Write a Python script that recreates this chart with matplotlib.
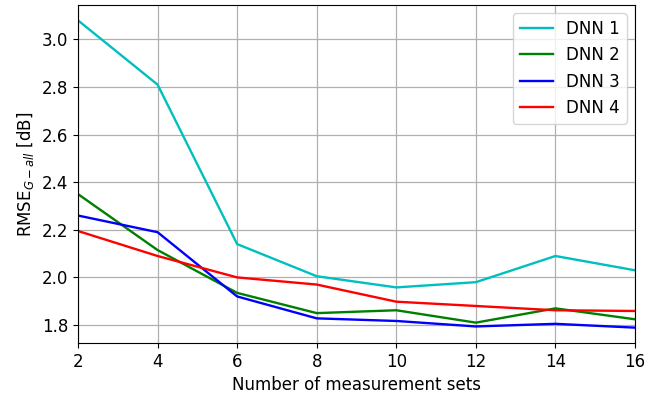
import numpy as np
import matplotlib
matplotlib.use("Agg")
import matplotlib.pyplot as plt

sets = [2, 4, 6, 8, 10, 12, 14, 16]
dnn1 = [3.08, 2.81, 2.14, 2.005, 1.958, 1.98, 2.09, 2.03]
dnn2 = [2.35, 2.115, 1.935, 1.85, 1.862, 1.81, 1.87, 1.824]
dnn3 = [2.26, 2.19, 1.92, 1.828, 1.817, 1.794, 1.805, 1.789]
dnn4 = [2.195, 2.09, 2.0, 1.97, 1.898, 1.88, 1.862, 1.859]
labels = ["DNN 1", "DNN 2", "DNN 3", "DNN 4"]
colors = ["c", "g", "b", "r"]

plt.rcParams["font.size"] = 12

fig, ax = plt.subplots(figsize=(6.68, 4.01), dpi=100)
fig.subplots_adjust(left=78 / 668, right=635 / 668, top=1 - 5 / 401, bottom=1 - 343 / 401)

for y, lab, c in zip([dnn1, dnn2, dnn3, dnn4], labels, colors):
    ax.plot(sets, y, color=c, label=lab, linewidth=1.7)

ax.set_xlim(2, 16)
ax.set_xticks(sets)
ax.grid(True, color="#b0b0b0", linewidth=0.9)
ax.set_xlabel("Number of measurement sets")
ax.set_ylabel(r"RMSE$_{G-all}$ [dB]")
ax.legend(loc="upper right")

fig.savefig("out.png", dpi=100)
